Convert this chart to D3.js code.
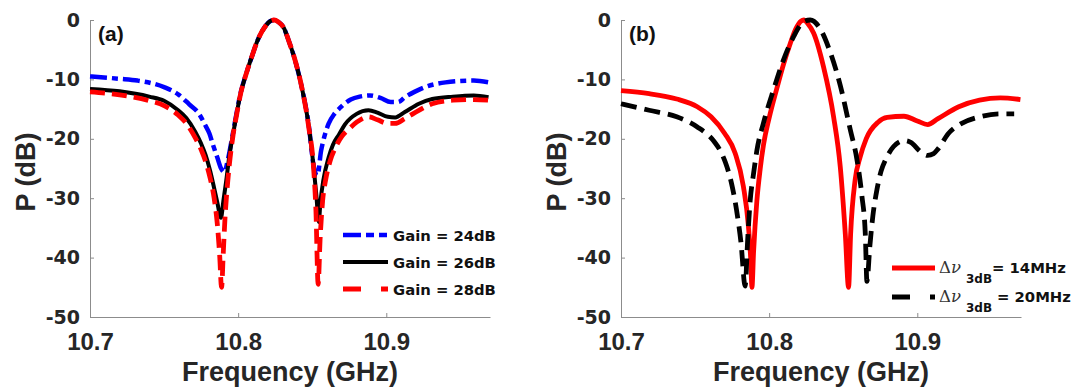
<!DOCTYPE html>
<html>
<head>
<meta charset="utf-8">
<script src="https://cdn.jsdelivr.net/npm/d3@7/dist/d3.min.js"></script>
<style>
  html, body { margin: 0; padding: 0; background: #fff; }
  svg { display: block; }
</style>
</head>
<body>
<div id="chart"></div>
<script>
const width = 1085;
const height = 389;
const axisGrey = '#8c8c8c';
const textGrey = '#262626';

// axis ticks
const freqTicks = [10.7, 10.8, 10.9];
const powerTicks = [0, -10, -20, -30, -40, -50];

// (a) gain sweep
const freq24 = [10.700, 10.720, 10.732, 10.750, 10.760, 10.767, 10.7736, 10.778, 10.7806, 10.783, 10.786, 10.7885, 10.7907, 10.793, 10.7965, 10.799, 10.801, 10.806, 10.810, 10.813, 10.8185, 10.8215, 10.8243, 10.827, 10.831, 10.834, 10.838, 10.843, 10.8475, 10.851, 10.8535, 10.856, 10.858, 10.861, 10.865, 10.8683, 10.876, 10.882, 10.889, 10.896, 10.903, 10.908, 10.9125, 10.919, 10.926, 10.940, 10.959, 10.969];
const power24 = [-9.5, -9.9, -10.2, -11.3, -12.6, -14.2, -15.8, -17.8, -19.1, -21.0, -23.2, -25.0, -25.6, -23.6, -19.0, -15.6, -13.0, -8.6, -5.6, -3.5, -1.0, -0.2, 0, -0.3, -1.4, -3.4, -6.4, -11.4, -17.4, -24.6, -26.2, -22.0, -19.8, -17.5, -15.8, -14.9, -13.4, -12.9, -12.7, -13.1, -13.8, -13.8, -13.0, -12.1, -11.3, -10.5, -10.2, -10.5];

const freq26 = [10.700, 10.720, 10.740, 10.750, 10.7595, 10.765, 10.771, 10.775, 10.778, 10.781, 10.7838, 10.786, 10.7884, 10.790, 10.792, 10.794, 10.7965, 10.799, 10.801, 10.806, 10.810, 10.813, 10.8185, 10.8215, 10.8243, 10.827, 10.831, 10.834, 10.838, 10.843, 10.8475, 10.851, 10.8528, 10.8544, 10.8556, 10.8575, 10.861, 10.864, 10.868, 10.872, 10.880, 10.888, 10.894, 10.901, 10.906, 10.9125, 10.922, 10.931, 10.945, 10.959, 10.969];
const power26 = [-11.6, -12.0, -12.9, -13.6, -15.2, -16.5, -18.8, -20.8, -22.7, -25.3, -28.3, -30.8, -33.3, -30.5, -27.0, -23.0, -19.3, -15.8, -13.1, -8.6, -5.6, -3.5, -1.0, -0.2, 0, -0.3, -1.4, -3.4, -6.4, -11.4, -17.6, -24.9, -29.5, -34.0, -30.5, -27.0, -23.2, -21.0, -19.3, -17.6, -15.8, -15.2, -15.6, -16.3, -16.4, -15.5, -14.1, -13.3, -12.9, -12.7, -13.0];

const freq28 = [10.700, 10.720, 10.740, 10.750, 10.7595, 10.765, 10.771, 10.775, 10.778, 10.781, 10.7838, 10.786, 10.7875, 10.7888, 10.790, 10.7912, 10.7925, 10.794, 10.7965, 10.799, 10.801, 10.806, 10.810, 10.813, 10.8185, 10.8215, 10.8243, 10.827, 10.831, 10.834, 10.838, 10.843, 10.8475, 10.851, 10.8525, 10.854, 10.8553, 10.857, 10.859, 10.862, 10.866, 10.870, 10.875, 10.880, 10.888, 10.894, 10.901, 10.906, 10.9125, 10.922, 10.931, 10.945, 10.959, 10.969];
const power28 = [-12.1, -12.6, -13.6, -14.4, -16.0, -17.4, -19.8, -21.8, -23.8, -26.5, -30.0, -34.5, -39.5, -45.0, -39.0, -33.0, -28.5, -24.5, -19.5, -15.9, -13.2, -8.6, -5.6, -3.5, -1.0, -0.2, 0, -0.3, -1.4, -3.4, -6.4, -11.4, -17.8, -25.2, -32.0, -44.5, -37.0, -30.5, -27.0, -23.8, -21.3, -19.6, -18.3, -17.2, -16.3, -16.8, -17.4, -17.4, -16.6, -15.2, -14.1, -13.5, -13.4, -13.5];

// (b) linewidth sweep
const freq14 = [10.700, 10.719, 10.7376, 10.7515, 10.7608, 10.770, 10.777, 10.7826, 10.786, 10.7875, 10.7884, 10.7895, 10.7917, 10.794, 10.7962, 10.800, 10.8052, 10.810, 10.8142, 10.818, 10.8215, 10.8234, 10.826, 10.830, 10.8367, 10.8435, 10.848, 10.8514, 10.8536, 10.855, 10.858, 10.8615, 10.8655, 10.8735, 10.8797, 10.891, 10.900, 10.907, 10.914, 10.928, 10.942, 10.956, 10.9696];
const power14 = [-11.9, -12.4, -13.3, -14.6, -16.3, -19.1, -22.4, -28.0, -34.7, -40.0, -45.0, -39.0, -30.5, -25.0, -21.0, -16.5, -11.5, -7.2, -4.0, -1.5, -0.2, 0, -0.6, -2.2, -7.9, -16.3, -24.7, -36.0, -45.0, -36.0, -27.0, -23.0, -20.0, -17.2, -16.4, -16.2, -17.0, -17.6, -16.6, -14.6, -13.5, -13.1, -13.4];

const freq20 = [10.700, 10.719, 10.7376, 10.7515, 10.763, 10.767, 10.7705, 10.7746, 10.778, 10.781, 10.7838, 10.7855, 10.7872, 10.7894, 10.7917, 10.7962, 10.803, 10.8097, 10.8165, 10.8232, 10.8277, 10.8345, 10.8412, 10.848, 10.8547, 10.8592, 10.8626, 10.8649, 10.866, 10.868, 10.870, 10.8728, 10.8755, 10.879, 10.884, 10.891, 10.8956, 10.9023, 10.907, 10.911, 10.914, 10.921, 10.930, 10.942, 10.956, 10.9654];
const power20 = [-14.1, -15.2, -16.3, -18.0, -20.5, -22.0, -24.0, -27.5, -32.0, -37.5, -44.8, -37.0, -30.4, -26.0, -22.0, -17.3, -11.7, -6.7, -2.8, -0.3, 0, -1.5, -5.4, -11.0, -18.4, -23.4, -29.6, -36.0, -44.0, -38.0, -33.0, -28.5, -25.5, -23.3, -21.3, -20.3, -20.6, -22.2, -22.8, -22.5, -21.7, -19.1, -17.4, -16.3, -15.8, -15.8];

const svg = d3.select('#chart')
    .append('svg')
    .attr('width', width)
    .attr('height', height);

const y = d3.scaleLinear().domain([-50, 0]).range([317, 20]);

function drawPanel(left, tag, series, legend) {
    const x = d3.scaleLinear().domain([10.7, 10.97]).range([left, left + 400]);
    const g = svg.append('g');

    // Axes
    const xAxis = g.append('g')
        .attr('transform', `translate(0, ${y(-50)})`)
        .call(d3.axisBottom(x).tickValues(freqTicks).tickSizeInner(-4).tickSizeOuter(0).tickPadding(16).tickFormat(d3.format('.1f')));
    xAxis.selectAll('text')
        .attr('font-family', 'Liberation Sans, Arial, sans-serif')
        .attr('font-weight', 'bold')
        .attr('font-size', 24)
        .attr('fill', textGrey);

    const yAxis = g.append('g')
        .attr('transform', `translate(${left}, 0)`)
        .call(d3.axisLeft(y).tickValues(powerTicks).tickSizeInner(-4).tickSizeOuter(0).tickPadding(10).tickFormat((d) => String(d)));
    yAxis.selectAll('text')
        .attr('font-family', 'DejaVu Sans, sans-serif')
        .attr('font-weight', 'bold')
        .attr('font-size', 19)
        .attr('fill', textGrey);

    g.selectAll('.domain, .tick line').attr('stroke', axisGrey).attr('stroke-width', 1);

    // Axis labels
    g.append('text')
        .attr('x', left + 200)
        .attr('y', 381)
        .attr('text-anchor', 'middle')
        .attr('font-family', 'Liberation Sans, Arial, sans-serif')
        .attr('font-weight', 'bold')
        .attr('font-size', 27)
        .attr('fill', textGrey)
        .text('Frequency (GHz)');

    g.append('text')
        .attr('transform', `translate(${left - 55}, 172) rotate(-90)`)
        .attr('text-anchor', 'middle')
        .attr('font-family', 'Liberation Sans, Arial, sans-serif')
        .attr('font-weight', 'bold')
        .attr('font-size', 27)
        .attr('fill', textGrey)
        .text('P (dB)');

    g.append('text')
        .attr('x', left + 8)
        .attr('y', 40.5)
        .attr('font-family', 'Liberation Sans, Arial, sans-serif')
        .attr('font-weight', 'bold')
        .attr('font-size', 21)
        .attr('fill', '#111')
        .text(tag);

    // Curves
    const line = d3.line()
        .x((d) => x(d[0]))
        .y((d) => y(d[1]))
        .curve(d3.curveMonotoneX);

    series.forEach((s) => {
        g.append('path')
            .datum(d3.zip(s.freq, s.power))
            .attr('d', line)
            .attr('fill', 'none')
            .attr('stroke', s.color)
            .attr('stroke-width', s.width)
            .attr('stroke-dasharray', s.dash)
            .attr('stroke-linejoin', 'round');
    });

    legend(g, series);
}

const gainSeries = [
    {freq: freq24, power: power24, color: '#0000ff', width: 4.5, dash: '17,5,6,5', key: '18,5,8,5,8,100', label: 'Gain = 24dB'},
    {freq: freq26, power: power26, color: '#000000', width: 4, dash: null, key: null, label: 'Gain = 26dB'},
    {freq: freq28, power: power28, color: '#ff0000', width: 4.8, dash: '15,7', key: '18,20,7,100', label: 'Gain = 28dB'}
];

const widthSeries = [
    {freq: freq14, power: power14, color: '#ff0000', width: 4.8, dash: null, key: null, value: '= 14MHz', vx: 992},
    {freq: freq20, power: power20, color: '#000000', width: 4.8, dash: '16,8', key: '18,20,7,100', value: '= 20MHz', vx: 997}
];

drawPanel(90, '(a)', gainSeries, (g, series) => {
    series.forEach((s, i) => {
        const ly = 235 + i * 27;
        g.append('line')
            .attr('x1', 343).attr('x2', 388)
            .attr('y1', ly).attr('y2', ly)
            .attr('stroke', s.color)
            .attr('stroke-width', s.width)
            .attr('stroke-dasharray', s.key);
        g.append('text')
            .attr('x', 393)
            .attr('y', ly + 5.5)
            .attr('font-family', 'DejaVu Sans, sans-serif')
            .attr('font-weight', 'bold')
            .attr('font-size', 14.8)
            .attr('fill', '#111')
            .text(s.label);
    });
});

drawPanel(621, '(b)', widthSeries, (g, series) => {
    series.forEach((s, i) => {
        const ly = 268 + i * 29;
        g.append('line')
            .attr('x1', 892).attr('x2', 935)
            .attr('y1', ly).attr('y2', ly)
            .attr('stroke', s.color)
            .attr('stroke-width', s.width)
            .attr('stroke-dasharray', s.key);
        const t = g.append('text')
            .attr('y', ly + 4.5)
            .attr('fill', '#111');
        t.append('tspan')
            .attr('x', 939)
            .attr('font-family', 'DejaVu Serif, Liberation Serif, serif')
            .attr('font-size', 16.5)
            .attr('fill', '#333')
            .text('Δ');
        t.append('tspan')
            .attr('font-family', 'DejaVu Serif, Liberation Serif, serif')
            .attr('font-style', 'italic')
            .attr('font-size', 16.5)
            .attr('fill', '#333')
            .text('ν');
        t.append('tspan')
            .attr('x', 966)
            .attr('dy', 10)
            .attr('font-family', 'DejaVu Sans, sans-serif')
            .attr('font-weight', 'bold')
            .attr('font-size', 12)
            .text('3dB');
        t.append('tspan')
            .attr('x', s.vx)
            .attr('dy', -10)
            .attr('font-family', 'DejaVu Sans, sans-serif')
            .attr('font-weight', 'bold')
            .attr('font-size', 14.8)
            .text(s.value);
    });
});
</script>
</body>
</html>
